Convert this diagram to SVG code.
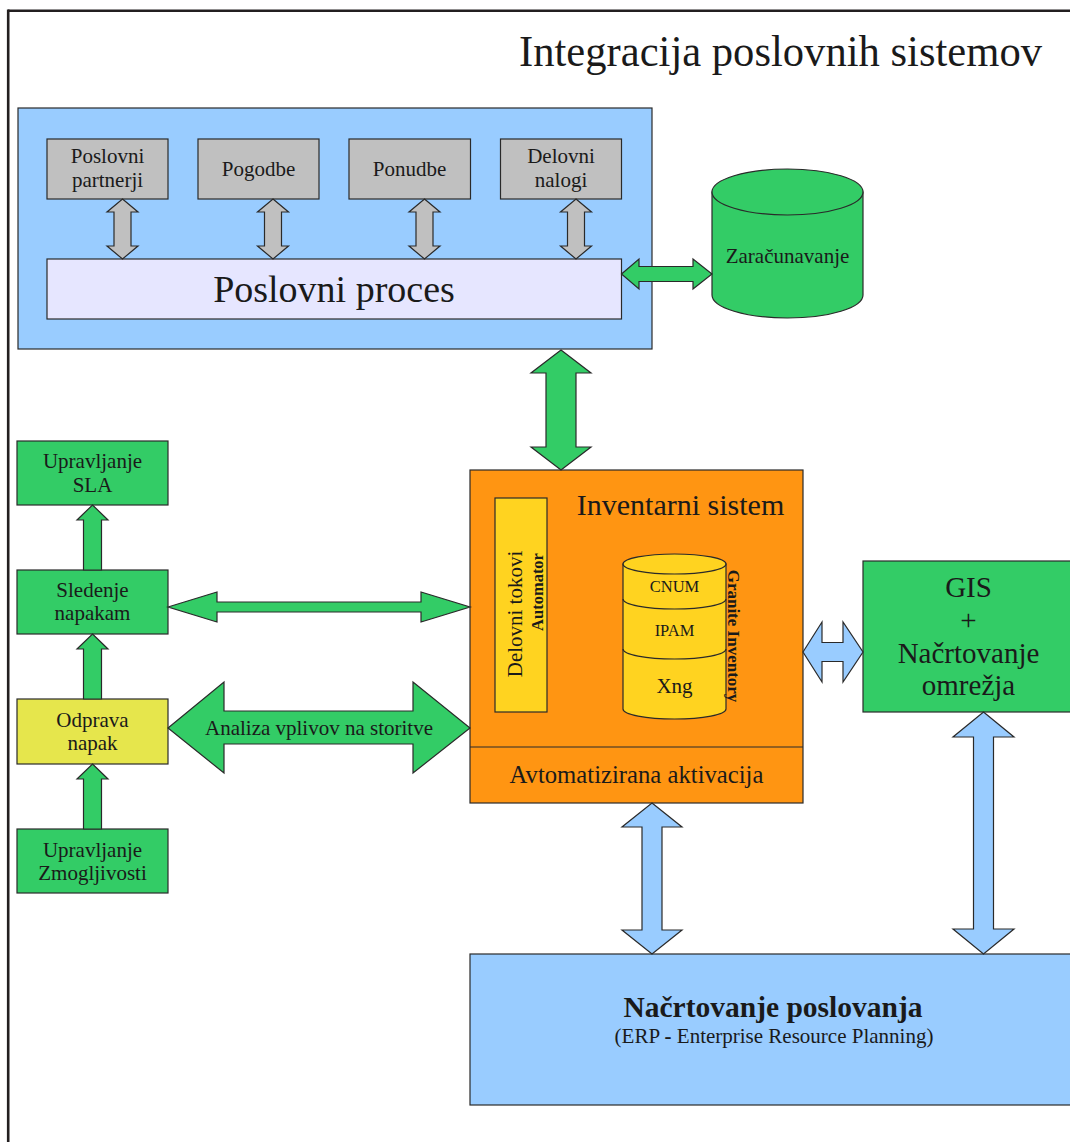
<svg xmlns="http://www.w3.org/2000/svg" width="1070" height="1142" viewBox="0 0 1070 1142">
  <style>
    text { font-family: "Liberation Serif", "Times New Roman", serif; fill: #1a1a1a; }
    .box { stroke: #2a2a2a; stroke-width: 1.2; }
    .blue { fill: #99ccff; }
    .green { fill: #33cc66; }
    .gray { fill: #c0c0c0; }
    .lav { fill: #e6e6ff; }
    .orange { fill: #ff9512; }
    .yellow { fill: #ffd320; }
    .olive { fill: #e6e64c; }
    .arrow { stroke: #2a2a2a; stroke-width: 1.2; stroke-linejoin: miter; }
    .c { text-anchor: middle; }
    .s21 { font-size: 21px; }
  </style>

  <!-- page frame -->
  <g id="frame" fill="none" stroke="#231f20" stroke-width="2.6">
    <line x1="8" y1="10.7" x2="1070" y2="10.7"/>
    <line x1="8.2" y1="9.5" x2="8.2" y2="1142"/>
  </g>

  <text id="title" x="519" y="66" font-size="45" textLength="523" lengthAdjust="spacingAndGlyphs">Integracija poslovnih sistemov</text>

  <!-- business process container -->
  <g id="poslovni-sklop">
    <rect class="box blue" x="18" y="108" width="634" height="241"/>
  </g>
  <g id="poslovni-partnerji">
    <rect class="box gray" x="47" y="139" width="121" height="60"/>
    <text class="c s21" x="107.5" y="163">Poslovni</text>
    <text class="c s21" x="107.5" y="187">partnerji</text>
  </g>
  <g id="pogodbe">
    <rect class="box gray" x="198" y="139" width="121" height="60"/>
    <text class="c s21" x="258.5" y="176">Pogodbe</text>
  </g>
  <g id="ponudbe">
    <rect class="box gray" x="349" y="139" width="121.5" height="60"/>
    <text class="c s21" x="409.5" y="176">Ponudbe</text>
  </g>
  <g id="delovni-nalogi">
    <rect class="box gray" x="500.5" y="139" width="121" height="60"/>
    <text class="c s21" x="561" y="163">Delovni</text>
    <text class="c s21" x="561" y="187">nalogi</text>
  </g>
  <g id="poslovni-proces">
    <rect class="box lav" x="47" y="259" width="574.5" height="60"/>
    <text class="c" x="334" y="302" font-size="38">Poslovni proces</text>
  </g>

  <!-- billing database -->
  <g id="zaracunavanje">
    <path class="box green" d="M712,192 V295 A75.5,23 0 0 0 863,295 V192 Z"/>
    <ellipse class="box green" cx="787.5" cy="192" rx="75.5" ry="23"/>
    <text class="c s21" x="787.5" y="263">Zaračunavanje</text>
  </g>

  <!-- inventory system -->
  <g id="inventarni-sistem">
    <rect class="box orange" x="470" y="470" width="333" height="333"/>
    <line x1="470" y1="747" x2="803" y2="747" stroke="#2a2a2a" stroke-width="1.2"/>
    <text class="c" x="680.5" y="515" font-size="30">Inventarni sistem</text>
    <text class="c" x="636.5" y="783" font-size="24.7">Avtomatizirana aktivacija</text>
  </g>
  <g id="delovni-tokovi">
    <rect class="box yellow" x="495" y="498" width="52" height="214"/>
    <text class="c" transform="translate(522,614) rotate(-90)" font-size="21">Delovni tokovi</text>
    <text class="c" transform="translate(543,592) rotate(-90)" font-size="16.5" font-weight="bold">Automator</text>
  </g>
  <g id="granite-inventory">
    <path class="box yellow" d="M623,564 V709 A51.5,10 0 0 0 726,709 V564 Z"/>
    <ellipse class="box yellow" cx="674.5" cy="564" rx="51.5" ry="10"/>
    <path d="M623,599 A51.5,10 0 0 0 726,599 M623,649 A51.5,10 0 0 0 726,649" fill="none" stroke="#2a2a2a" stroke-width="1.2"/>
    <text class="c" x="674.5" y="592" font-size="16.5">CNUM</text>
    <text class="c" x="674.5" y="636" font-size="16.5">IPAM</text>
    <text class="c" x="674.5" y="693" font-size="21">Xng</text>
    <text class="c" transform="translate(728,636) rotate(90)" font-size="17" font-weight="bold">Granite Inventory</text>
  </g>

  <!-- service management column -->
  <g id="upravljanje-sla">
    <rect class="box green" x="17" y="441" width="151" height="64"/>
    <text class="c s21" x="92.5" y="468">Upravljanje</text>
    <text class="c s21" x="92.5" y="492">SLA</text>
  </g>
  <g id="sledenje-napakam">
    <rect class="box green" x="17" y="570" width="151" height="64"/>
    <text class="c s21" x="92.5" y="597">Sledenje</text>
    <text class="c s21" x="92.5" y="620">napakam</text>
  </g>
  <g id="odprava-napak">
    <rect class="box olive" x="17" y="699" width="151" height="65"/>
    <text class="c s21" x="92.5" y="727">Odprava</text>
    <text class="c s21" x="92.5" y="750">napak</text>
  </g>
  <g id="upravljanje-zmogljivosti">
    <rect class="box green" x="17" y="829" width="151" height="64"/>
    <text class="c s21" x="92.5" y="857">Upravljanje</text>
    <text class="c s21" x="92.5" y="880">Zmogljivosti</text>
  </g>

  <!-- GIS and network planning -->
  <g id="gis">
    <rect class="box green" x="863" y="561" width="220" height="151"/>
    <text class="c" x="968.5" y="597" font-size="29">GIS</text>
    <text class="c" x="968.5" y="630" font-size="29">+</text>
    <text class="c" x="968.5" y="663" font-size="29">Načrtovanje</text>
    <text class="c" x="968.5" y="695" font-size="29">omrežja</text>
  </g>

  <!-- ERP -->
  <g id="erp">
    <rect class="box blue" x="470" y="954" width="620" height="151"/>
    <text class="c" x="773" y="1017" font-size="29.5" font-weight="bold">Načrtovanje poslovanja</text>
    <text class="c" x="774" y="1043" font-size="21">(ERP <tspan font-weight="bold">-</tspan> Enterprise Resource Planning)</text>
  </g>

  <!-- connectors -->
  <g id="connectors">
    <g class="arrow gray">
      <polygon points="122.5,199 138,212 131,212 131,246 138,246 122.5,259 107,246 114,246 114,212 107,212"/>
      <polygon points="273,199 288.5,212 281.5,212 281.5,246 288.5,246 273,259 257.5,246 264.5,246 264.5,212 257.5,212"/>
      <polygon points="424.5,199 440,212 433,212 433,246 440,246 424.5,259 409,246 416,246 416,212 409,212"/>
      <polygon points="576,199 591.5,212 584.5,212 584.5,246 591.5,246 576,259 560.5,246 567.5,246 567.5,212 560.5,212"/>
    </g>
    <g class="arrow green">
      <polygon points="621.5,274 639,259 639,266.5 693,266.5 693,259 712,274 693,289 693,281.5 639,281.5 639,289"/>
      <polygon points="561,350 591,373 576,373 576,447 591,447 561,470 531,447 546,447 546,373 531,373"/>
      <polygon points="92.5,505 108,520 101.5,520 101.5,570 83.5,570 83.5,520 77,520"/>
      <polygon points="92.5,634 108,649 101.5,649 101.5,699 83.5,699 83.5,649 77,649"/>
      <polygon points="92.5,764 108,779 101.5,779 101.5,829 83.5,829 83.5,779 77,779"/>
      <polygon points="168,607 217,592 217,602 421,602 421,592 470,607 421,622 421,612 217,612 217,622"/>
      <polygon points="168,728 224,682 224,711 413,711 413,682 470,728 413,773 413,744 224,744 224,773"/>
    </g>
    <text class="c s21" x="319" y="735">Analiza vplivov na storitve</text>
    <g class="arrow blue">
      <polygon points="803,652 822,622 822,642.5 843,642.5 843,622 863,652 843,682 843,661.5 822,661.5 822,682"/>
      <polygon points="652,803 682,827 662,827 662,930 682,930 652,954 622,930 642,930 642,827 622,827"/>
      <polygon points="983.5,712 1014,737 993.5,737 993.5,929 1014,929 983.5,954 953,929 973.5,929 973.5,737 953,737"/>
    </g>
  </g>
</svg>
